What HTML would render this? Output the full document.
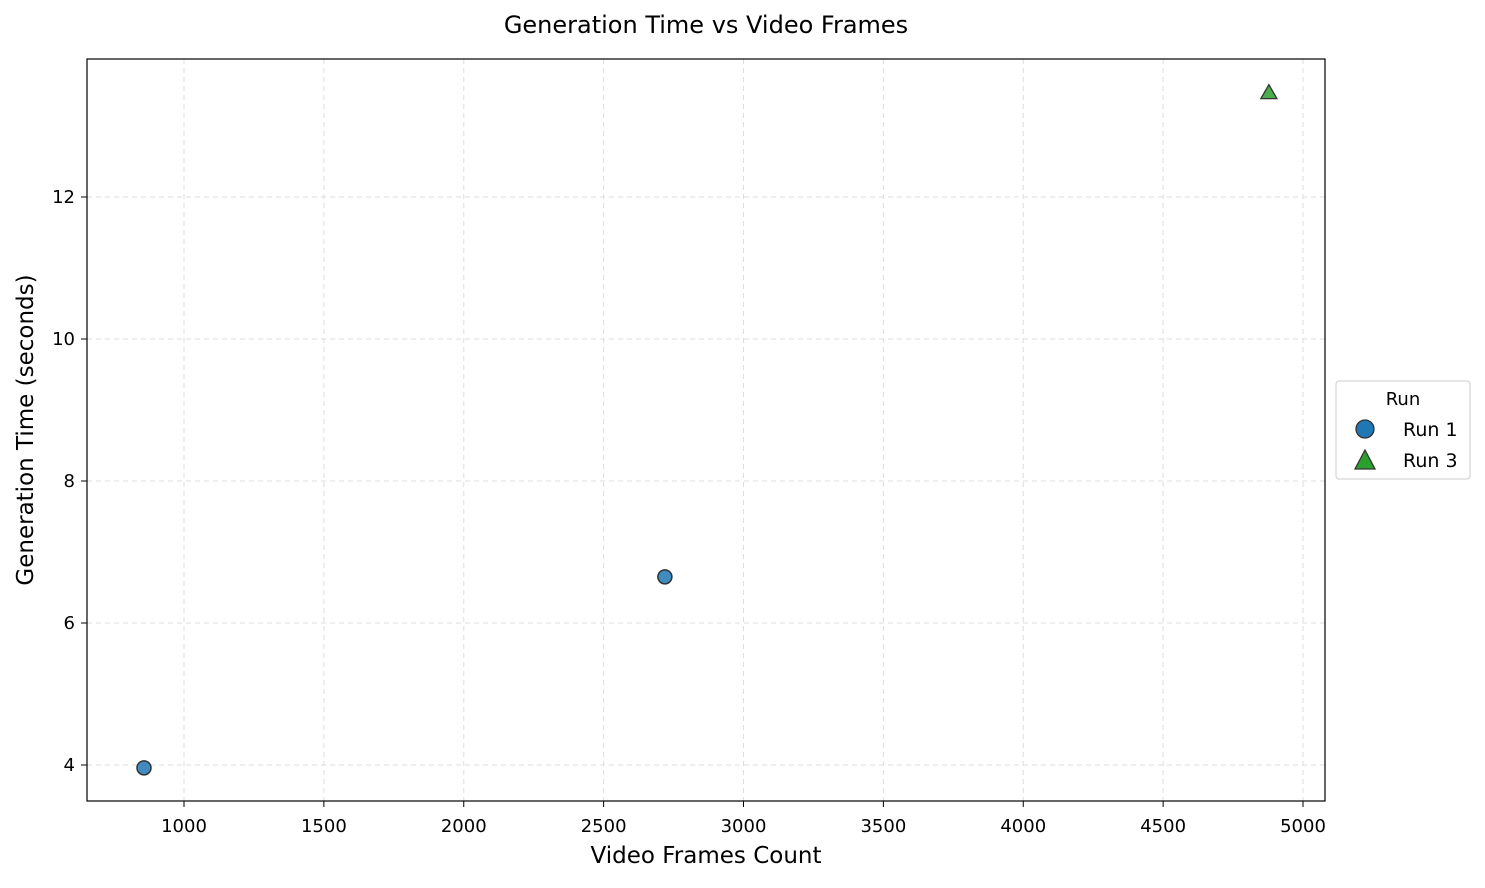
<!DOCTYPE html>
<html><head><meta charset="utf-8"><style>
body{margin:0;background:#fff;}
svg text{font-family:"DejaVu Sans","Liberation Sans",sans-serif;fill:#000;}
</style></head><body>
<svg id="chart" width="1485" height="883">
<text x="706" y="33" font-size="24" text-anchor="middle">Generation Time vs Video Frames</text>
<g id="grid"></g>
<rect x="87" y="59" width="1238" height="742" fill="none" stroke="#000" stroke-width="1.2"/>
<g id="ticks"></g>
<g id="marks"></g>
<text x="706" y="863" font-size="23" text-anchor="middle">Video Frames Count</text>
<text transform="translate(33,430) rotate(-90)" font-size="23" text-anchor="middle">Generation Time (seconds)</text>
<g>
<rect x="1336" y="381" width="134" height="98" rx="3" fill="#fff" stroke="#ccc"/>
<text x="1403" y="405" font-size="18" text-anchor="middle">Run</text>
<circle cx="1365" cy="429" r="9" fill="#1f77b4" stroke="#333" stroke-width="1.3"/>
<text x="1403" y="436" font-size="19">Run 1</text>
<polygon points="1365,450 1375,469 1355,469" fill="#2ca02c" stroke="#333" stroke-width="1.3"/>
<text x="1403" y="467" font-size="19">Run 3</text>
</g>
</svg>
<script>
const run1Frames=[857,2719];
const run1Times=[3.96,6.65];
const run3Frames=[4878];
const run3Times=[13.47];
const xTicks=[1000,1500,2000,2500,3000,3500,4000,4500,5000];
const yTicks=[4,6,8,10,12];
const NS="http://www.w3.org/2000/svg";
function xs(v){return 184+(v-1000)*(1303-184)/4000;}
function ys(v){return 765-(v-4)*(765-197)/8;}
function mk(tag,attrs,parent){const e=document.createElementNS(NS,tag);for(const k in attrs)e.setAttribute(k,attrs[k]);document.getElementById(parent).appendChild(e);return e;}
xTicks.forEach(t=>{const x=xs(t);
 let g=mk('line',{x1:x,x2:x,y1:59,y2:801,stroke:'#ddd','stroke-dasharray':'5,4'},'grid');
 
 
 let l=mk('line',{x1:x,x2:x,y1:801,y2:807,stroke:'#000'},'ticks');
 
 
 let tx=mk('text',{x:x,y:832,'font-size':18,'text-anchor':'middle'},'ticks');tx.textContent=t;
 
 
});
yTicks.forEach(t=>{const y=ys(t);
 let g=mk('line',{x1:87,x2:1325,y1:y,y2:y,stroke:'#ddd','stroke-dasharray':'5,4'},'grid');
 
 
 let l=mk('line',{x1:81,x2:87,y1:y,y2:y,stroke:'#000'},'ticks');
 
 
 let tx=mk('text',{x:75,y:y+6,'font-size':18,'text-anchor':'end'},'ticks');tx.textContent=t;
 
 
});
run1Frames.forEach((f,i)=>{
 let c=mk('circle',{cx:xs(f),cy:ys(run1Times[i]),r:7,fill:'#1f77b4','fill-opacity':0.85,stroke:'#333','stroke-width':1.5},'marks');
 
 
});
run3Frames.forEach((f,i)=>{const x=xs(f),y=ys(run3Times[i]);
 let p=mk('polygon',{points:`${x},${y-8} ${x+8},${y+6} ${x-8},${y+6}`,fill:'#2ca02c','fill-opacity':0.85,stroke:'#333','stroke-width':1.3},'marks');
 
 
});
</script>
</body></html>
